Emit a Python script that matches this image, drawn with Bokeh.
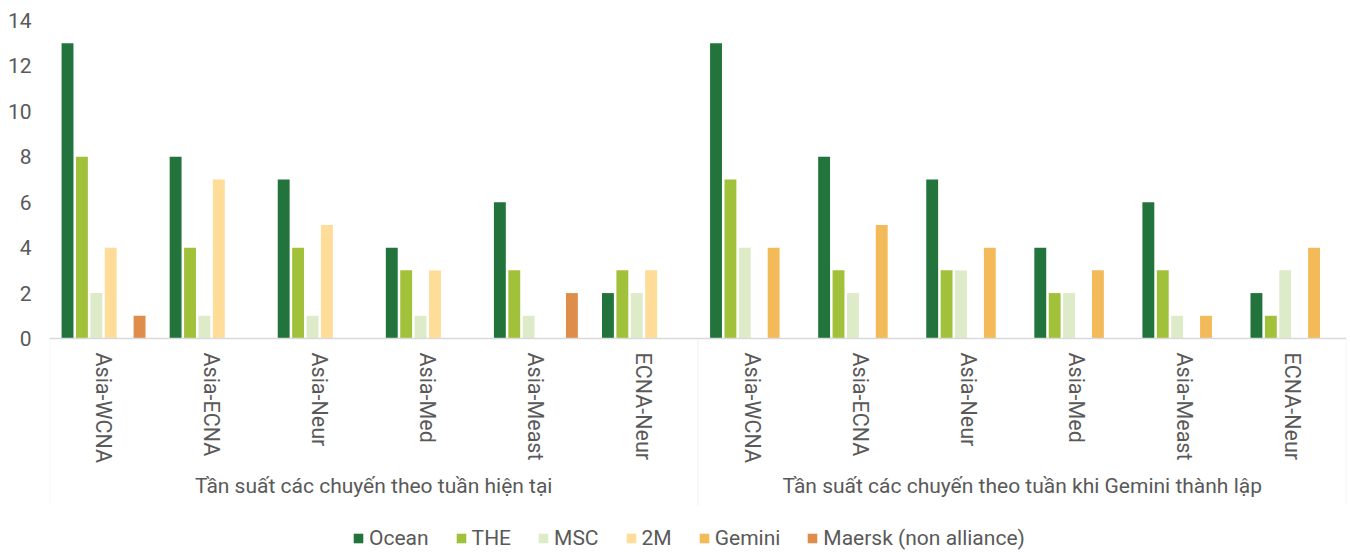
from bokeh.plotting import figure
from bokeh.models import FactorRange, Range1d, Legend, LegendItem, PolyAnnotation, ColumnDataSource, FixedTicker
from bokeh.transform import dodge
from bokeh.embed import file_html
from bokeh.resources import INLINE

groups = ["Tần suất các chuyến theo tuần hiện tại",
          "Tần suất các chuyến theo tuần khi Gemini thành lập"]
routes = ["Asia-WCNA", "Asia-ECNA", "Asia-Neur", "Asia-Med", "Asia-Meast", "ECNA-Neur"]
series = ["Ocean", "THE", "MSC", "2M", "Gemini", "Maersk (non alliance)"]
colors = ["#23733C", "#A2C13B", "#DDEBC9", "#FFDC98", "#F3BA5A", "#DF8D4B"]

ocean = [13, 8, 7, 4, 6, 2, 13, 8, 7, 4, 6, 2]
the = [8, 4, 4, 3, 3, 3, 7, 3, 3, 2, 3, 1]
msc = [2, 1, 1, 1, 1, 2, 4, 2, 3, 2, 1, 3]
two_m = [4, 7, 5, 3, 0, 3, 0, 0, 0, 0, 0, 0]
gemini = [0, 0, 0, 0, 0, 0, 4, 5, 4, 3, 1, 4]
maersk = [1, 0, 0, 0, 2, 0, 0, 0, 0, 0, 0, 0]
y_ticks = [0, 2, 4, 6, 8, 10, 12, 14]

factors = [(g, r) for g in groups for r in routes]
values = [ocean, the, msc, two_m, gemini, maersk]
data = {"x": factors}
for i, v in enumerate(values):
    data["s%d" % i] = v
src = ColumnDataSource(data)

FONT = "Roboto"
TXT = "#595959"
GRID = "#D9D9D9"
FS = "21px"

# frame spans the bars and the category/legend area below them; value 0 sits at 318px from top
p = figure(frame_width=1297, frame_height=532, output_backend="svg", toolbar_location=None,
           x_range=FactorRange(*factors, range_padding=0, group_padding=0, factor_padding=0),
           y_range=Range1d(-9.42, 14),
           min_border_left=49, min_border_top=20, min_border_right=4, min_border_bottom=0)
p.outline_line_color = None
p.xgrid.visible = False
p.ygrid.visible = False

slot = 0.1333
items = []
for i, name in enumerate(series):
    r = p.vbar(x=dodge("x", (i - 2.5) * slot, range=p.x_range), top="s%d" % i, width=0.11,
               source=src, fill_color=colors[i], line_color=None)
    items.append(LegendItem(label=name, renderers=[r]))

# axes
p.yaxis.ticker = FixedTicker(ticks=y_ticks)
p.yaxis.axis_line_color = None
p.yaxis.major_tick_line_color = None
p.yaxis.minor_tick_line_color = None
p.yaxis.major_label_standoff = 12
p.yaxis.major_label_text_font = FONT
p.yaxis.major_label_text_font_size = FS
p.yaxis.major_label_text_color = TXT

xa = p.xaxis[0]
xa.fixed_location = 0
xa.axis_line_color = GRID
xa.axis_line_width = 1.5
xa.major_tick_line_color = None
xa.minor_tick_line_color = None
xa.major_label_orientation = "vertical"
xa.major_label_standoff = 8
xa.major_label_text_font = FONT
xa.major_label_text_font_size = "21.5px"
xa.major_label_text_color = TXT
xa.group_text_font = FONT
xa.group_text_font_size = FS
xa.group_text_font_style = "normal"
xa.group_text_color = TXT
xa.separator_line_color = None

# category box lines (left edge, group separator, right edge)
for xpos in [0, 6, 12]:
    p.add_layout(PolyAnnotation(xs=[xpos, xpos], ys=[0, -7.35], fill_alpha=0,
                                line_color=GRID, line_width=1.5))

legend = Legend(items=items, orientation="horizontal", location=(303, 2),
                label_text_font=FONT, label_text_font_size=FS, label_text_color=TXT,
                glyph_width=12, glyph_height=12, label_standoff=5, spacing=26,
                border_line_color=None, background_fill_alpha=0, padding=0, margin=0)
p.add_layout(legend, "center")

open("out.html", "w").write(file_html(p, INLINE))
